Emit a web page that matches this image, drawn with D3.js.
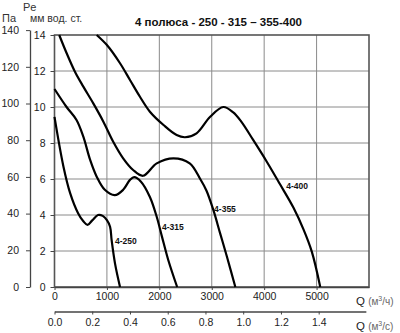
<!DOCTYPE html>
<html>
<head>
<meta charset="utf-8">
<script src="https://cdn.jsdelivr.net/npm/d3@7"></script>
<style>
  body { margin: 0; background: #fff; }
  svg { display: block; font-family: "Liberation Sans", Arial, sans-serif; }
  .tick text { fill: #222; }
</style>
</head>
<body>
<script>
// curve data, Q in m3/h, Pe in mm water column
var q250 = [0, 170, 300, 450, 550, 630, 720, 830, 920, 1000, 1060, 1090, 1155, 1250];
var p250 = [9.45, 6.7, 5.2, 4.1, 3.65, 3.45, 3.7, 4.0, 3.95, 3.72, 3.35, 2.6, 1.3, 0];

var q315 = [0, 230, 420, 550, 680, 805, 960, 1150, 1310, 1440, 1520, 1650, 1820, 1950, 2050, 2170, 2340];
var p315 = [11.0, 10.0, 9.28, 8.35, 7.06, 6.13, 5.4, 5.1, 5.4, 5.95, 6.1, 5.85, 5.0, 3.9, 2.8, 1.5, 0];

var q355 = [90, 230, 390, 550, 740, 930, 1120, 1310, 1500, 1690, 1950, 2270, 2580, 2780, 2900, 3030, 3160, 3290, 3450];
var p355 = [14, 13.0, 11.96, 11.13, 10.2, 9.2, 8.07, 7.15, 6.5, 6.18, 6.87, 7.15, 6.87, 6.0, 5.35, 4.28, 2.98, 1.68, 0];

var q400 = [805, 1000, 1250, 1440, 1630, 1820, 2080, 2330, 2490, 2710, 2970, 3220, 3410, 3560, 3790, 4050, 4300, 4560, 4750, 4910, 5070];
var p400 = [14, 13.44, 12.43, 11.5, 10.57, 9.74, 9.0, 8.44, 8.32, 8.54, 9.46, 10.0, 9.7, 9.2, 8.17, 6.96, 5.72, 4.4, 3.2, 1.95, 0];

var curveNames = ["4-250", "4-315", "4-355", "4-400"];
// where each name sits: [Q, Pe]
var labelQ = [1155, 2050, 3045, 4420];
var labelP = [2.39, 3.17, 4.17, 5.44];

var qTicks = [0, 1000, 2000, 3000, 4000, 5000];
var qsTicks = [0, 0.2, 0.4, 0.6, 0.8, 1.0, 1.2, 1.4];
var peTicks = [0, 2, 4, 6, 8, 10, 12, 14];
var paTicks = [0, 20, 40, 60, 80, 100, 120, 140];

var title = "4 полюса - 250 - 315 – 355-400";

var w = 400, h = 333;

var x = d3.scaleLinear().domain([0, 6000]).range([54.5, 369]);
var y = d3.scaleLinear().domain([0, 14]).range([287, 35]);
// 1 mm w.c. = 9.81 Pa
var yPa = d3.scaleLinear().domain([0, 140]).range([y(0), y(140 / 9.81)]);
var xs = d3.scaleLinear().domain([0, 1.65]).range([x(0), x(1.65 * 3600)]);

var svg = d3.select("body").append("svg")
  .attr("width", w)
  .attr("height", h);

// grid
svg.append("g").selectAll("line")
  .data(qTicks.slice(1))
  .enter().append("line")
  .attr("x1", function (d) { return x(d); })
  .attr("x2", function (d) { return x(d); })
  .attr("y1", y(0))
  .attr("y2", y(14))
  .attr("stroke", "#8a8a8a")
  .attr("stroke-width", 1);

svg.append("g").selectAll("line")
  .data(peTicks.slice(1, -1))
  .enter().append("line")
  .attr("x1", x(0))
  .attr("x2", x(6000))
  .attr("y1", function (d) { return y(d); })
  .attr("y2", function (d) { return y(d); })
  .attr("stroke", "#8a8a8a")
  .attr("stroke-width", 1);

svg.append("rect")
  .attr("x", x(0))
  .attr("y", y(14))
  .attr("width", x(6000) - x(0))
  .attr("height", y(0) - y(14))
  .attr("fill", "none")
  .attr("stroke", "#555")
  .attr("stroke-width", 1.6);

// axes
var peAxis = d3.axisLeft(y).tickValues(peTicks).tickSize(4).tickPadding(5).tickSizeOuter(0);
var gPe = svg.append("g")
  .attr("transform", "translate(" + x(0) + ",0)")
  .call(peAxis);

var paAxis = d3.axisLeft(yPa).tickValues(paTicks).tickSize(4).tickPadding(7).tickSizeOuter(0);
var gPa = svg.append("g")
  .attr("transform", "translate(30,0)")
  .call(paAxis);

var qAxis = d3.axisBottom(x).tickValues(qTicks).tickSize(3).tickPadding(3).tickSizeOuter(0)
  .tickFormat(d3.format("d"));
var gQ = svg.append("g")
  .attr("transform", "translate(0," + y(0) + ")")
  .call(qAxis);

var qsAxis = d3.axisBottom(xs).tickValues(qsTicks).tickSize(3).tickPadding(4).tickSizeOuter(0)
  .tickFormat(d3.format(".1f"));
var gQs = svg.append("g")
  .attr("transform", "translate(0,311.5)")
  .call(qsAxis);

[gPe, gPa, gQ, gQs].forEach(function (g) {
  g.attr("font-family", null).attr("font-size", null);
  g.selectAll("text").style("font-size", "10.5px");
  g.selectAll("line").attr("stroke", "#444");
  g.select(".domain").attr("stroke", "#444").attr("stroke-width", 1.3);
});
gPe.select(".domain").remove();

// curves
var line = d3.line()
  .x(function (d) { return x(d[0]); })
  .y(function (d) { return y(d[1]); })
  .curve(d3.curveCatmullRom.alpha(0.5));

var series = [[q250, p250], [q315, p315], [q355, p355], [q400, p400]];

svg.append("g").selectAll("path")
  .data(series)
  .enter().append("path")
  .attr("d", function (s) { return line(s[0].map(function (q, i) { return [q, s[1][i]]; })); })
  .attr("fill", "none")
  .attr("stroke", "#000")
  .attr("stroke-width", 2.2);

svg.append("g").selectAll("text")
  .data(curveNames)
  .enter().append("text")
  .attr("x", function (d, i) { return x(labelQ[i]); })
  .attr("y", function (d, i) { return y(labelP[i]); })
  .attr("font-size", "8.5px")
  .attr("font-weight", "bold")
  .attr("fill", "#111")
  .text(function (d) { return d; });

// titles
svg.append("text")
  .attr("x", 135).attr("y", 26)
  .attr("font-size", "11.5px")
  .attr("font-weight", "bold")
  .attr("fill", "#111")
  .text(title);

svg.append("text").attr("x", 2).attr("y", 22)
  .attr("font-size", "11px").attr("fill", "#333").text("Па");
svg.append("text").attr("x", 23).attr("y", 11)
  .attr("font-size", "11px").attr("fill", "#333").text("Pe");
svg.append("text").attr("x", 30).attr("y", 22)
  .attr("font-size", "10.5px").attr("fill", "#333").text("мм вод. ст.");

var u1 = svg.append("text").attr("x", 356).attr("y", 305).attr("font-size", "11.5px").attr("fill", "#222");
u1.append("tspan").text("Q ");
u1.append("tspan").attr("fill", "#666").attr("font-size", "10px").text("(м");
u1.append("tspan").attr("fill", "#666").attr("font-size", "7px").attr("dy", -4).text("3");
u1.append("tspan").attr("fill", "#666").attr("font-size", "10px").attr("dy", 4).text("/ч)");

var u2 = svg.append("text").attr("x", 356).attr("y", 330).attr("font-size", "11.5px").attr("fill", "#222");
u2.append("tspan").text("Q ");
u2.append("tspan").attr("fill", "#666").attr("font-size", "10px").text("(м");
u2.append("tspan").attr("fill", "#666").attr("font-size", "7px").attr("dy", -4).text("3");
u2.append("tspan").attr("fill", "#666").attr("font-size", "10px").attr("dy", 4).text("/с)");
</script>
</body>
</html>
